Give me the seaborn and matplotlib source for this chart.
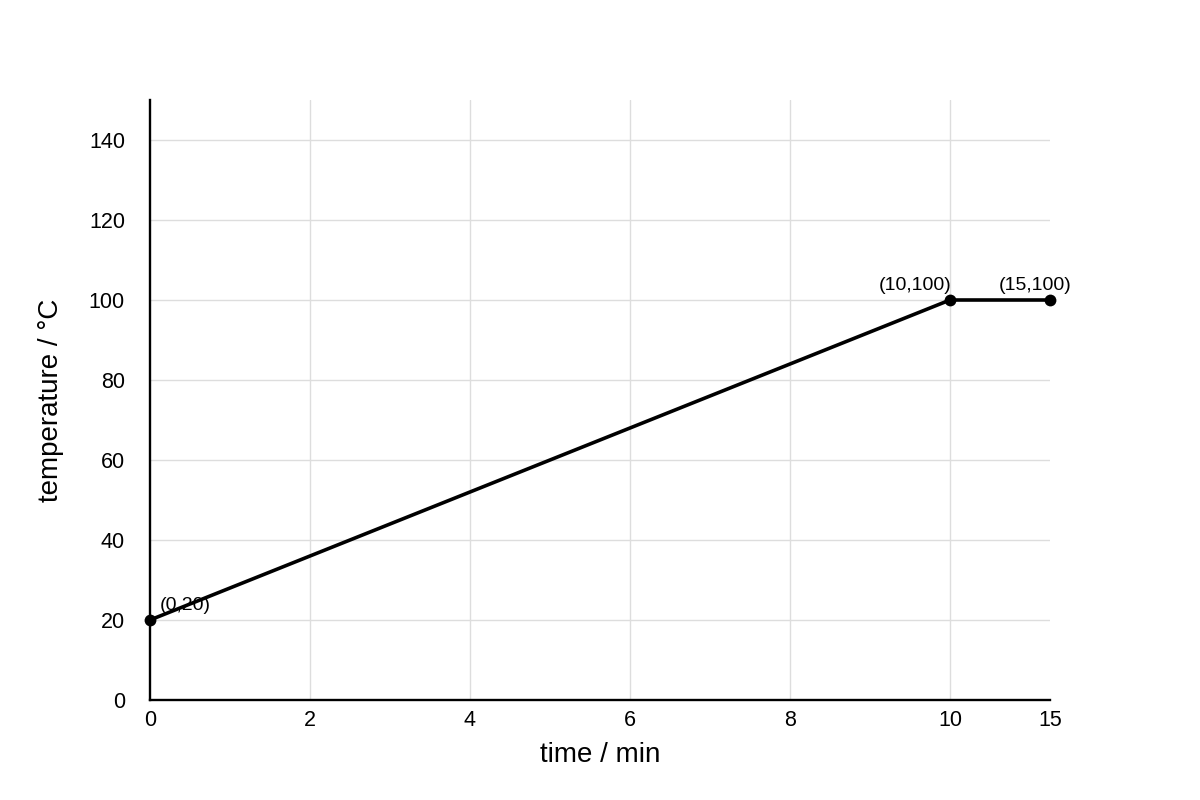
import numpy as np
import pandas as pd
import matplotlib
matplotlib.use("Agg")
import matplotlib.pyplot as plt
import seaborn as sns

# data
time_min = [0, 10, 15]
temperature = [20, 100, 100]
point_labels = ["(0,20)", "(10,100)", "(15,100)"]
label_offsets = [(7, 4), (-51, 4), (-37, 4)]  # offset points
x_ticks = [0, 2, 4, 6, 8, 10, 15]
y_ticks = [0, 20, 40, 60, 80, 100, 120, 140]

sns.set_theme(style="white")
plt.rcParams['font.family'] = ['Liberation Sans', 'DejaVu Sans']

df = pd.DataFrame({"time": time_min, "temp": temperature})

fig = plt.figure(figsize=(12, 8), dpi=100)
ax = fig.add_axes([0.125, 0.125, 0.75, 0.75])

sns.lineplot(data=df, x="time", y="temp", ax=ax, color="black",
             linewidth=2.6, marker="o", markersize=8.5, markeredgewidth=0,
             zorder=5, clip_on=False)

# axis is compressed after 10 min: 10 -> 15 takes 1.25 units of space
def fwd(t):
    t = np.asarray(t, dtype=float)
    return np.where(t <= 10, t, 10 + (t - 10) * 0.25)

def inv(u):
    u = np.asarray(u, dtype=float)
    return np.where(u <= 10, u, 10 + (u - 10) * 4)

ax.set_xscale("function", functions=(fwd, inv))
ax.set_xlim(0, 15)
ax.set_ylim(0, 150)
ax.set_xticks(x_ticks)
ax.set_xticklabels([str(t) for t in x_ticks])
ax.set_yticks(y_ticks)
ax.set_yticklabels([str(t) for t in y_ticks])

# grid lines, none at the last tick
for t in x_ticks[1:-1]:
    ax.axvline(t, color="#dddddd", linewidth=1, zorder=0)
for t in y_ticks[1:]:
    ax.axhline(t, color="#dddddd", linewidth=1, zorder=0)

for x, y, lab, off in zip(time_min, temperature, point_labels, label_offsets):
    ax.annotate(lab, (x, y), xytext=off, textcoords="offset points",
                fontsize=14, color="black", ha="left", va="bottom")

for s in ["top", "right"]:
    ax.spines[s].set_visible(False)
for s in ["left", "bottom"]:
    ax.spines[s].set_color("black")
    ax.spines[s].set_linewidth(1.7)

ax.tick_params(axis="y", length=0, pad=18, labelsize=15.5, labelcolor="black")
ax.tick_params(axis="x", length=0, pad=7, labelsize=15.5, labelcolor="black")

ax.set_xlabel("time / min", fontsize=20, color="black", labelpad=8)
ax.set_ylabel("temperature / °C", fontsize=20, color="black", labelpad=18)

fig.savefig("out.png", dpi=100)
